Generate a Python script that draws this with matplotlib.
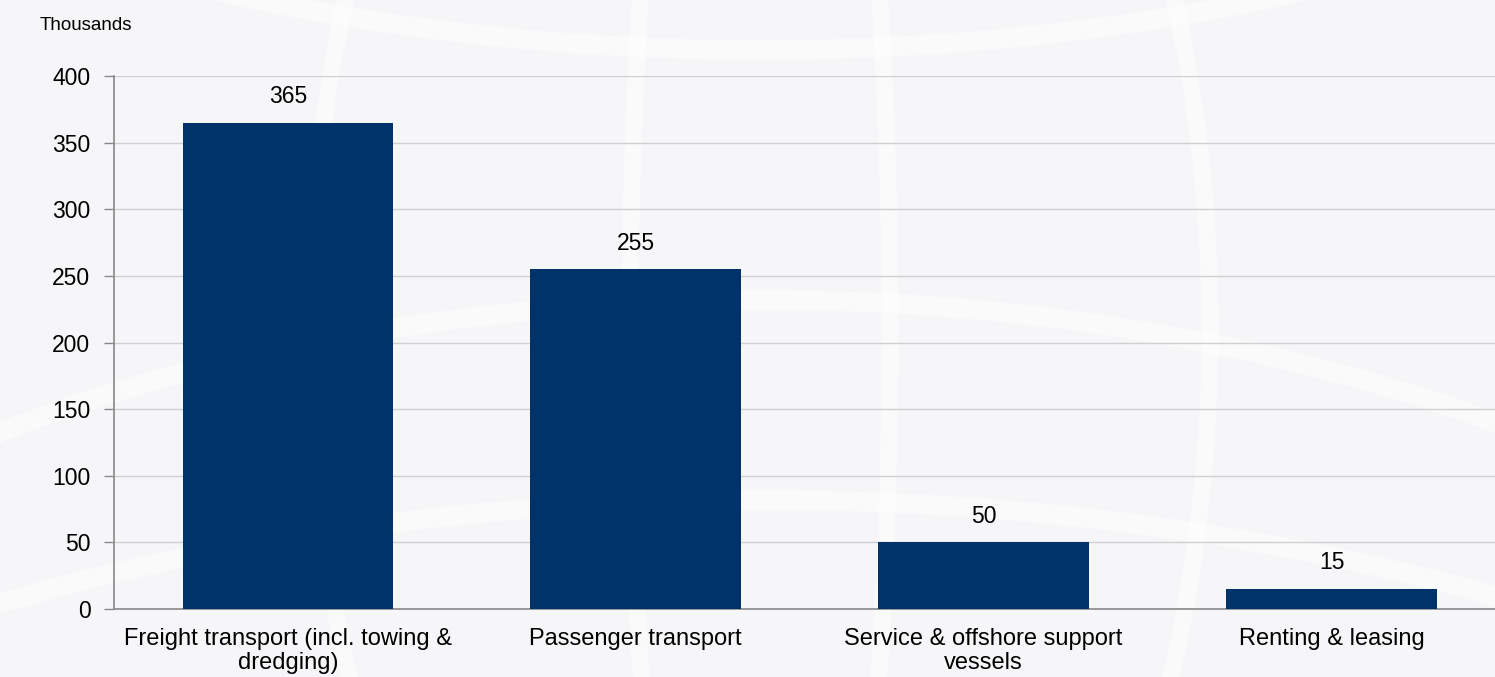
import numpy as np
import matplotlib.pyplot as plt
from matplotlib.patches import Arc

plt.rcParams["font.family"] = ["Liberation Sans", "DejaVu Sans"]

categories = [
    "Freight transport (incl. towing &\ndredging)",
    "Passenger transport",
    "Service & offshore support\nvessels",
    "Renting & leasing",
]
values = [365, 255, 50, 15]
y_ticks = [0, 50, 100, 150, 200, 250, 300, 350, 400]

BAR_COLOR = "#00336a"
BG_COLOR = "#f6f6f8"

fig = plt.figure(figsize=(14.95, 6.77), dpi=100, facecolor=BG_COLOR)

# faint globe-like curves in the background
bg = fig.add_axes([0, 0, 1, 1], zorder=-10)
bg.set_xlim(0, 1495)
bg.set_ylim(677, 0)
bg.axis("off")
# meridians
for w in [260, 900, 1700, 2600]:
    bg.add_patch(Arc((760, 330), w, 1700, color="white", lw=12, alpha=0.55))
# parallels
for cy, w, h in [(1000, 2600, 1400), (1250, 3000, 1500), (-700, 2800, 1500)]:
    bg.add_patch(Arc((760, cy), w, h, color="white", lw=14, alpha=0.55))

ax = fig.add_axes([114 / 1495, 68 / 677, 1 - 114 / 1495, (609 - 76) / 677])
ax.set_facecolor("none")

x = np.arange(len(categories))
bars = ax.bar(x, values, width=0.606, color=BAR_COLOR, zorder=3)
for b, v in zip(bars, values):
    ax.text(b.get_x() + b.get_width() / 2, v + 11, str(v),
            ha="center", va="bottom", fontsize=16.5, color="black")

ax.set_xlim(-0.5, 3.47)
ax.set_ylim(0, 400)
ax.set_yticks(y_ticks)
ax.set_xticks(x)
ax.set_xticklabels(categories, fontsize=17, linespacing=1.1)
ax.tick_params(axis="y", labelsize=16.5, length=7, width=1, color="#888888", pad=10)
ax.tick_params(axis="x", length=0, pad=14)
ax.yaxis.grid(True, color="#d0d0d0", lw=1, zorder=0)

for s in ["top", "right"]:
    ax.spines[s].set_visible(False)
ax.spines["left"].set_color("#888888")
ax.spines["bottom"].set_color("#888888")
ax.spines["left"].set_linewidth(1.2)
ax.spines["bottom"].set_linewidth(1.2)

fig.text(40 / 1495, 1 - 25 / 677, "Thousands", fontsize=13.5, va="center", ha="left")

fig.savefig("out.png", dpi=100, facecolor=BG_COLOR)
